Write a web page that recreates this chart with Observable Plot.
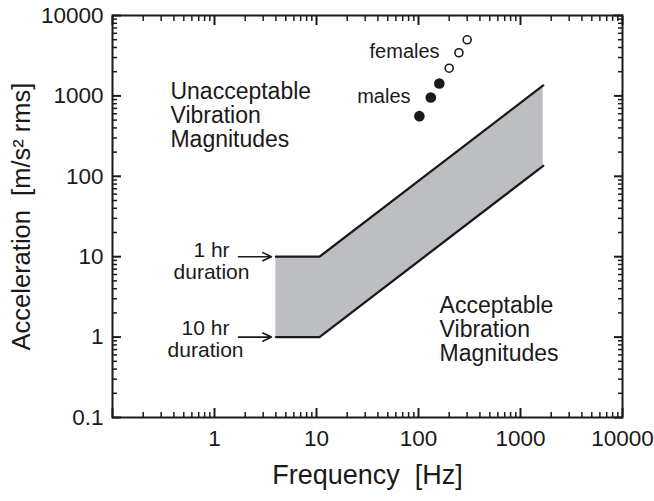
<!DOCTYPE html>
<html><head><meta charset="utf-8">
<script src="https://cdn.jsdelivr.net/npm/d3@7"></script>
<script src="https://cdn.jsdelivr.net/npm/@observablehq/plot@0.6"></script>
<style>
body{margin:0;background:#fff;font-family:"Liberation Sans",Arial,sans-serif}
#chart{width:654px;height:501px}
</style>
</head><body><div id="chart"></div>
<script>
// ---- data ----
const xTickLabels = [1, 10, 100, 1000, 10000];
const yTickLabels = [0.1, 1, 10, 100, 1000, 10000];
const xDomain = [0.1, 10000];
const yDomain = [0.1, 10000];

const bandFreq  = [4, 10.7, 1670];
const bandUpper = [10, 10, 1350];   // 1 hr duration limit
const bandLower = [1, 1, 135];      // 10 hr duration limit

const malesFreq = [102, 132, 160];
const malesAcc  = [560, 955, 1425];
const femalesFreq = [200, 249, 300];
const femalesAcc  = [2210, 3440, 4990];

const xTitle = "Frequency  [Hz]";
const yTitle = "Acceleration  [m/s\u00B2 rms]";

const labelText = ["Unacceptable\nVibration\nMagnitudes", "Acceptable\nVibration\nMagnitudes", "females", "males", "1 hr\nduration", "10 hr\nduration"];
const labelFreq = [0.37, 161, 161, 83.5, 0.935, 0.817];
const labelAcc  = [570, 1.24, 3560, 985, 8.8, 0.944];
const labelAnchor = ["start", "start", "end", "end", "middle", "middle"];
const labelSize = [23, 23, 20, 20, 21, 21];
const labelLead = [1.04, 1.04, 1, 1, 1.05, 1.05];

const arrowFrom = [1.72, 1.72];
const arrowTo   = [3.62, 3.62];
const arrowAcc  = [10, 1];

// ---- tables ----
const band = bandFreq.map((f, i) => ({f, lo: bandLower[i], hi: bandUpper[i]}));
const males = malesFreq.map((f, i) => ({f, a: malesAcc[i]}));
const females = femalesFreq.map((f, i) => ({f, a: femalesAcc[i]}));
const labels = labelText.map((t, i) => ({t, f: labelFreq[i], a: labelAcc[i], anchor: labelAnchor[i], size: labelSize[i], lead: labelLead[i]}));
const arrows = arrowAcc.map((a, i) => ({x1: arrowFrom[i], x2: arrowTo[i], a}));

const isIn = (list) => (v) => list.some(m => Math.abs(m - v) / m < 1e-9);
const majorX = yTickLabels;       // decades 0.1 … 10000
const majorY = yTickLabels;
const minorX = d3.scaleLog().domain(xDomain).ticks().filter(v => !isIn(majorX)(v));
const minorY = d3.scaleLog().domain(yDomain).ticks().filter(v => !isIn(majorY)(v));

const ink = "#1a1a1a";
const W = 654, H = 501, mL = 112, mR = 32, mT = 15, mB = 84;
const majLen = 9, minLen = 5;
const blank = () => "";

// inward ticks on all four sides (negative tickSize points into the frame)
const tickMarks = [];
for (const anchor of ["bottom", "top"]) {
  tickMarks.push(Plot.axisX(majorX, {anchor, tickSize: -majLen, tickFormat: blank, stroke: ink, strokeWidth: 2}));
  tickMarks.push(Plot.axisX(minorX, {anchor, tickSize: -minLen, tickFormat: blank, stroke: ink, strokeWidth: 1.5}));
}
for (const anchor of ["left", "right"]) {
  tickMarks.push(Plot.axisY(majorY, {anchor, tickSize: -majLen, tickFormat: blank, stroke: ink, strokeWidth: 2}));
  tickMarks.push(Plot.axisY(minorY, {anchor, tickSize: -minLen, tickFormat: blank, stroke: ink, strokeWidth: 1.5}));
}

const chart = Plot.plot({
  width: W,
  height: H,
  marginLeft: mL,
  marginRight: mR,
  marginTop: mT,
  marginBottom: mB,
  style: {fontFamily: "'Liberation Sans', Arial, sans-serif", background: "#fff"},
  x: {type: "log", domain: xDomain, label: null, axis: null},
  y: {type: "log", domain: yDomain, label: null, axis: null},
  marks: [
    Plot.areaY(band, {x: "f", y1: "lo", y2: "hi", fill: "#bdbec1"}),
    Plot.line(band, {x: "f", y: "hi", stroke: ink, strokeWidth: 2.3}),
    Plot.line(band, {x: "f", y: "lo", stroke: ink, strokeWidth: 2.3}),
    Plot.dot(males, {x: "f", y: "a", r: 5.3, fill: ink, stroke: "none"}),
    Plot.dot(females, {x: "f", y: "a", r: 4, fill: "white", stroke: ink, strokeWidth: 1.6}),
    Plot.arrow(arrows, {x1: "x1", x2: "x2", y1: "a", y2: "a", stroke: ink, strokeWidth: 1.6, headLength: 9, headAngle: 50}),
    ...labels.map(d => Plot.text([d], {x: "f", y: "a", text: "t", textAnchor: d.anchor, fontSize: d.size, lineHeight: d.lead, fill: ink, lineAnchor: "middle"})),
    ...tickMarks,
    Plot.axisX(xTickLabels, {anchor: "bottom", tickSize: 0, tickPadding: 13, fontSize: 22.5, tickFormat: d => String(d), fill: ink}),
    Plot.axisY(yTickLabels, {anchor: "left", tickSize: 0, tickPadding: 9, fontSize: 22.5, tickFormat: d => String(d), fill: ink}),
    Plot.text([xTitle], {frameAnchor: "bottom", dy: 66, text: d => d, fontSize: 27, lineAnchor: "bottom", textAnchor: "middle", fill: ink}),
    Plot.text([yTitle], {frameAnchor: "left", dx: -91, rotate: -90, text: d => d, fontSize: 25.5, lineAnchor: "middle", textAnchor: "middle", fill: ink}),
    Plot.frame({stroke: ink, strokeWidth: 2})
  ]
});
document.getElementById("chart").appendChild(chart);
</script>
</body></html>
